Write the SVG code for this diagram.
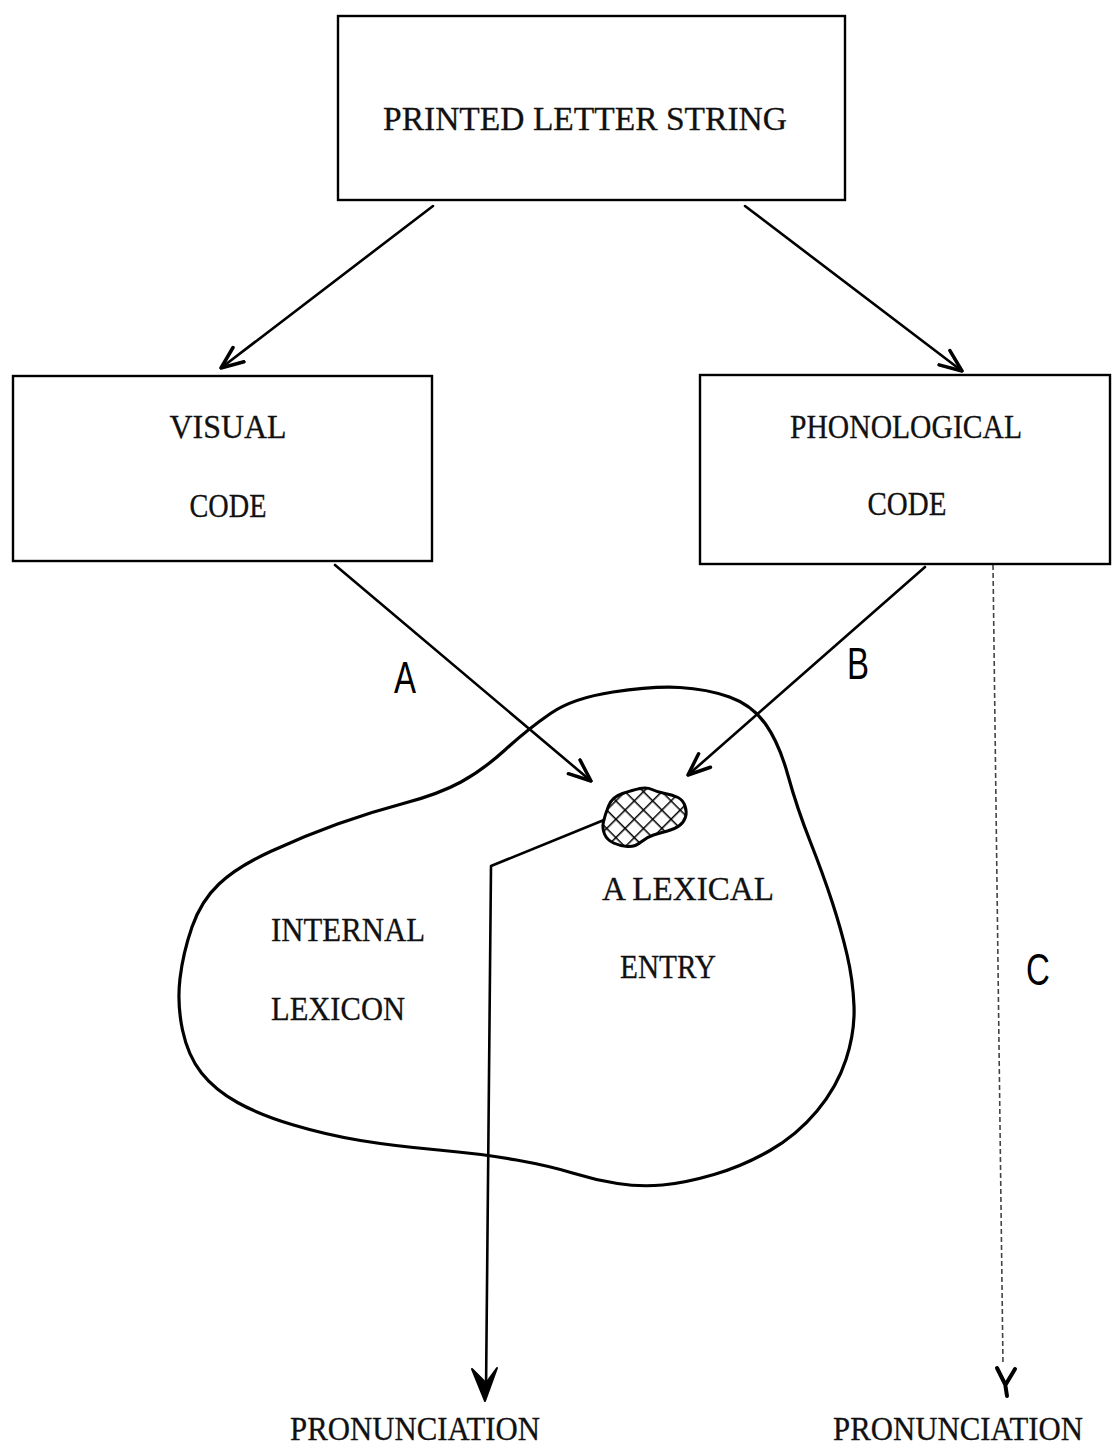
<svg xmlns="http://www.w3.org/2000/svg" width="1113" height="1450" viewBox="0 0 1113 1450">
<style>
.box{fill:none;stroke:#000;stroke-width:2.4}
.tw{font-family:"Liberation Serif","Times New Roman",serif;font-size:33px;fill:#111;stroke:#111;stroke-width:0.3}
.hand{font-family:"Liberation Sans",Arial,sans-serif;font-size:44px;fill:#000}
.ln{fill:none;stroke:#000;stroke-width:2.6;stroke-linecap:round;stroke-linejoin:round}
.outline{fill:none;stroke:#000;stroke-width:3.2;stroke-linejoin:round}
.faint{fill:none;stroke:#444;stroke-width:1.6;stroke-dasharray:5 3}
</style>
<defs>
<marker id="vopen" viewBox="0 0 26 22" refX="24" refY="11" markerWidth="26" markerHeight="22" markerUnits="userSpaceOnUse" orient="auto">
<path d="M2,2 L24,11 L2,20" fill="none" stroke="#000" stroke-width="3.5" stroke-linecap="round" stroke-linejoin="round"/>
</marker>
<pattern id="hatch" width="13" height="13" patternUnits="userSpaceOnUse" patternTransform="rotate(45)">
<path d="M0,0 H13 M0,0 V13" stroke="#000" stroke-width="3"/>
</pattern>
</defs>
<rect width="1113" height="1450" fill="#fff"/>

<g id="connectors">
<path class="ln" d="M433,206 L221,368" marker-end="url(#vopen)"/>
<path class="ln" d="M745,206 L962,371" marker-end="url(#vopen)"/>
<path class="ln" d="M335,565 L591,781" marker-end="url(#vopen)"/>
<path class="ln" d="M925,567 L688,775" marker-end="url(#vopen)"/>
<path class="faint" d="M993,565 L1003,1365"/>
<path d="M997,1368 L1005,1384 M1015,1369 L1006,1384 M1005,1383 L1007,1396" fill="none" stroke="#000" stroke-width="4" stroke-linecap="round"/>
<path class="ln" d="M604,820 L491,866 L486,1392"/>
<path d="M472,1369 L485,1401 L497,1368 L486,1383 Z" fill="#000" stroke="#000" stroke-width="2" stroke-linejoin="round"/>
<text class="hand" x="405" y="693" text-anchor="middle" transform="translate(405 0) scale(0.75 1) translate(-405 0)">A</text>
<text class="hand" x="858" y="679" text-anchor="middle" transform="translate(858 0) scale(0.75 1) translate(-858 0)">B</text>
<text class="hand" x="1038" y="985" text-anchor="middle" transform="translate(1038 0) scale(0.75 1) translate(-1038 0)">C</text>
</g>

<g id="printed-letter-string">
<rect class="box" x="338" y="16" width="507" height="184"/>
<text class="tw" x="585" y="130" text-anchor="middle" textLength="404" lengthAdjust="spacingAndGlyphs">PRINTED LETTER STRING</text>
</g>

<g id="visual-code">
<rect class="box" x="13" y="376" width="419" height="185"/>
<text class="tw" x="228" y="438" text-anchor="middle" textLength="117" lengthAdjust="spacingAndGlyphs">VISUAL</text>
<text class="tw" x="228" y="517" text-anchor="middle" textLength="77" lengthAdjust="spacingAndGlyphs">CODE</text>
</g>

<g id="phonological-code">
<rect class="box" x="700" y="375" width="410" height="189"/>
<text class="tw" x="906" y="438" text-anchor="middle" textLength="232" lengthAdjust="spacingAndGlyphs">PHONOLOGICAL</text>
<text class="tw" x="907" y="515" text-anchor="middle" textLength="79" lengthAdjust="spacingAndGlyphs">CODE</text>
</g>

<g id="internal-lexicon">
<path class="outline" d="M613,692 Q653,686 680,687.5 Q707,689 729.5,697 Q752,705 765.5,724 Q779,743 788,775.5 Q797,808 810,841 Q823,874 832,901.5 Q841,929 847,954.5 Q853,980 854,1006 Q855,1032 846,1059.5 Q837,1087 817,1111 Q797,1135 770,1150.5 Q743,1166 714,1174.5 Q685,1183 662.5,1185 Q640,1187 617.5,1183.5 Q595,1180 572.5,1173 Q550,1166 516.5,1160 Q483,1154 438.5,1150 Q394,1146 360.5,1140.5 Q327,1135 293.5,1125 Q260,1115 237.5,1102.5 Q215,1090 201.5,1073 Q188,1056 182.5,1030 Q177,1004 180,978.5 Q183,953 192,927 Q201,901 219,884 Q237,867 270.5,851.5 Q304,836 337.5,824 Q371,812 405,803 Q439,794 461,782 Q483,770 505.5,749.5 Q528,729 550.5,713.5 Q573,698 613,692 Z"/>
<text class="tw" x="348" y="941" text-anchor="middle" textLength="154" lengthAdjust="spacingAndGlyphs">INTERNAL</text>
<text class="tw" x="338" y="1020" text-anchor="middle" textLength="134" lengthAdjust="spacingAndGlyphs">LEXICON</text>
</g>

<g id="lexical-entry">
<path d="M608.5,806 Q612,797 622.5,793.5 Q633,790 640,788.5 Q647,787 652,789.5 Q657,792 665,793.5 Q673,795 678,797.5 Q683,800 685,806 Q687,812 685.5,817 Q684,822 679.5,825.5 Q675,829 667.5,831 Q660,833 653.5,835 Q647,837 641,842 Q635,847 627.5,846.5 Q620,846 613.5,843 Q607,840 604.5,834 Q602,828 603.5,821.5 Q605,815 608.5,806 Z" fill="url(#hatch)" stroke="#000" stroke-width="3"/>
<text class="tw" x="688" y="900" text-anchor="middle" textLength="172" lengthAdjust="spacingAndGlyphs">A LEXICAL</text>
<text class="tw" x="668" y="978" text-anchor="middle" textLength="96" lengthAdjust="spacingAndGlyphs">ENTRY</text>
</g>

<g id="pronunciation-1">
<text class="tw" x="415" y="1440" text-anchor="middle" textLength="250" lengthAdjust="spacingAndGlyphs">PRONUNCIATION</text>
</g>
<g id="pronunciation-2">
<text class="tw" x="958" y="1440" text-anchor="middle" textLength="250" lengthAdjust="spacingAndGlyphs">PRONUNCIATION</text>
</g>
</svg>
